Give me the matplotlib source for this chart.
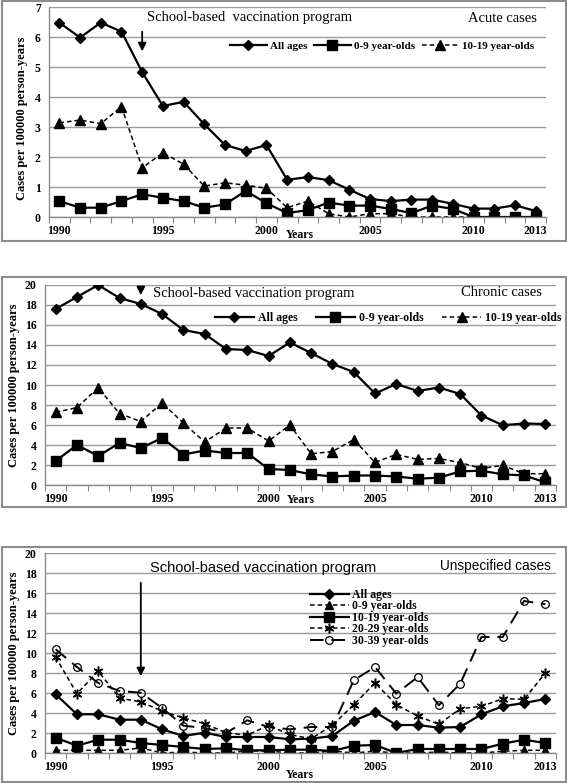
import matplotlib
matplotlib.use("Agg")
import matplotlib.pyplot as plt
from matplotlib.patches import Rectangle
import numpy as np

years = list(range(1990, 2014))

# Acute cases
acute_all = [6.48, 5.98, 6.48, 6.18, 4.83, 3.70, 3.84, 3.09, 2.40, 2.20, 2.40, 1.24,
             1.33, 1.23, 0.91, 0.60, 0.53, 0.58, 0.58, 0.44, 0.28, 0.28, 0.39, 0.20]
acute_0_9 = [0.53, 0.31, 0.31, 0.53, 0.76, 0.64, 0.53, 0.31, 0.42, 0.87, 0.46, 0.13,
             0.23, 0.48, 0.38, 0.38, 0.27, 0.13, 0.38, 0.27, 0.0, 0.0, 0.0, 0.0]
acute_10_19 = [3.14, 3.23, 3.11, 3.68, 1.64, 2.14, 1.76, 1.03, 1.14, 1.06, 0.96, 0.31,
               0.53, 0.11, 0.0, 0.11, 0.11, 0.0, 0.0, 0.0, 0.0, 0.0, 0.0, 0.0]

# Chronic cases
chronic_all = [17.6, 18.8, 20.0, 18.7, 18.1, 17.1, 15.5, 15.1, 13.6, 13.5, 12.9, 14.25,
               13.2, 12.1, 11.3, 9.15, 10.1, 9.4, 9.75, 9.1, 6.95, 5.98, 6.15, 6.1]
chronic_0_9 = [2.4, 4.0, 2.9, 4.2, 3.7, 4.7, 3.05, 3.45, 3.2, 3.2, 1.6, 1.5,
               1.06, 0.85, 0.95, 0.95, 0.85, 0.63, 0.73, 1.36, 1.43, 1.06, 0.96, 0.27]
chronic_10_19 = [7.28, 7.74, 9.73, 7.14, 6.35, 8.2, 6.2, 4.3, 5.7, 5.7, 4.4, 6.0,
                 3.12, 3.35, 4.55, 2.26, 3.06, 2.56, 2.66, 2.23, 1.66, 1.96, 1.13, 1.13]

# Unspecified cases
unspec_all = [5.87, 3.87, 3.87, 3.33, 3.33, 2.37, 1.7, 2.03, 1.6, 1.6, 1.6, 1.37,
              1.43, 1.7, 3.23, 4.1, 2.8, 2.8, 2.53, 2.6, 3.87, 4.67, 5.0, 5.4]
unspec_0_9 = [0.27, 0.27, 0.27, 0.27, 0.5, 0.0, 0.1, 0.0, 0.0, 0.2, 0.2, 0.0,
              0.0, 0.2, 0.0, 0.17, 0.0, 0.0, 0.1, 0.0, 0.0, 0.17, 0.27, 0.27]
unspec_10_19 = [1.53, 0.73, 1.33, 1.33, 1.0, 0.8, 0.6, 0.4, 0.47, 0.27, 0.27, 0.33,
                0.33, 0.2, 0.73, 0.8, 0.0, 0.4, 0.4, 0.4, 0.4, 0.93, 1.33, 1.0]
unspec_20_29 = [9.6, 5.93, 8.17, 5.5, 5.1, 4.2, 3.5, 2.93, 2.03, 1.77, 2.77, 1.83,
                1.43, 2.77, 4.83, 7.0, 4.83, 3.7, 2.87, 4.43, 4.67, 5.43, 5.37, 8.0]
unspec_30_39 = [10.37, 8.6, 7.0, 6.2, 6.03, 4.5, 2.73, 2.5, 2.0, 3.27, 2.6, 2.37,
                2.6, 2.6, 7.27, 8.6, 5.93, 7.6, 4.77, 6.93, 11.6, 11.6, 15.2, 14.87]

xtick_years = [1990, 1995, 2000, 2005, 2010, 2013]
program_year = 1994

W, H = 567, 783
fig = plt.figure(figsize=(W / 100, H / 100), dpi=100)

SERIF = ["Liberation Serif", "DejaVu Serif"]
SANS = ["Liberation Sans", "DejaVu Sans"]


def fx(x):
    return x / W


def fy(y):
    return 1 - y / H


def make_axes(x0, x1, y0, y1):
    return fig.add_axes([fx(x0), fy(y1), (x1 - x0) / W, (y1 - y0) / H])


def style_axes(ax, ymax, ystep):
    ax.set_xlim(1989.5, 2013.5)
    ax.set_ylim(0, ymax)
    ax.set_yticks(np.arange(0, ymax + 0.01, ystep))
    ax.set_xticks(xtick_years)
    ax.set_xticks(np.arange(1989.5, 2014, 1), minor=True)
    ax.tick_params(axis="x", which="major", length=0, pad=6)
    ax.tick_params(axis="x", which="minor", length=4, color="#888888", width=0.8)
    ax.tick_params(axis="y", length=0, pad=6)
    for lab in ax.get_xticklabels() + ax.get_yticklabels():
        lab.set_fontfamily(SERIF)
        lab.set_fontweight("bold")
        lab.set_fontsize(8.5)
    ax.grid(axis="y", color="#9a9a9a", lw=1.0)
    ax.set_axisbelow(True)
    for s in ["top", "right"]:
        ax.spines[s].set_visible(False)
    for s in ["left", "bottom"]:
        ax.spines[s].set_color("#8a8a8a")
        ax.spines[s].set_linewidth(1.0)
    ax.set_facecolor("white")


def frame(y0, y1):
    fig.patches.append(Rectangle((fx(1.5), fy(y1)), (W - 3) / W, (y1 - y0) / H,
                                 transform=fig.transFigure, fill=False,
                                 edgecolor="#8c8c8c", lw=1.5, zorder=0))


def ylab(x, y, size=9):
    fig.text(fx(x), fy(y), "Cases per 100000 person-years", rotation=90,
             ha="center", va="center", family=SERIF, weight="bold", fontsize=size)


def xlab(x, y):
    fig.text(fx(x), fy(y), "Years", ha="center", va="center",
             family=SERIF, weight="bold", fontsize=8.5)


lw = 1.6
star = (6, 2, 0)
# ---------------- Panel 1: Acute ----------------
frame(1, 241)
ax1 = make_axes(49, 546, 7, 217)
style_axes(ax1, 7, 1)
ax1.plot(years, acute_all, color="black", lw=lw, marker="D", ms=5, label="All ages")
ax1.plot(years, acute_0_9, color="black", lw=lw, marker="s", ms=6.5, label="0-9 year-olds")
ax1.plot(years, acute_10_19, color="black", lw=1.1, ls=(0, (3, 2)), marker="^", ms=6.5,
         label="10-19 year-olds")
ylab(22, 118)
xlab(300, 235)
fig.text(fx(147), fy(18), "School-based  vaccination program", ha="left", va="center",
         family=SERIF, fontsize=10.5)
fig.text(fx(537), fy(18), "Acute cases", ha="right", va="center",
         family=SERIF, fontsize=10.5)
ax1.annotate("", xy=(program_year, 5.43), xytext=(program_year, 6.27),
             arrowprops=dict(arrowstyle="-|>", color="black", lw=1.3,
                             mutation_scale=12), annotation_clip=False)
ax1.legend(loc="center left", bbox_to_anchor=(fx(230), fy(46)),
           bbox_transform=fig.transFigure, ncol=3, frameon=False,
           handlelength=3.3, handletextpad=0.3, columnspacing=0.6,
           borderpad=0, borderaxespad=0,
           prop=dict(family=SERIF, weight="bold", size=8))

# ---------------- Panel 2: Chronic ----------------
frame(277, 507)
ax2 = make_axes(45, 556, 285, 485)
style_axes(ax2, 20, 2)
ax2.plot(years, chronic_all, color="black", lw=lw, marker="D", ms=5, label="All ages")
ax2.plot(years, chronic_0_9, color="black", lw=lw, marker="s", ms=6.5, label="0-9 year-olds")
ax2.plot(years, chronic_10_19, color="black", lw=1.1, ls=(0, (3, 2)), marker="^", ms=6.5,
         label="10-19 year-olds")
ylab(14, 385)
xlab(301, 500)
fig.text(fx(153), fy(293), "School-based vaccination program", ha="left", va="center",
         family=SERIF, fontsize=10.5)
fig.text(fx(542), fy(293), "Chronic cases", ha="right", va="center",
         family=SERIF, fontsize=10.5)
ax2.annotate("", xy=(program_year, 18.7), xytext=(program_year, 19.9),
             arrowprops=dict(arrowstyle="-|>", color="black", lw=1.3,
                             mutation_scale=12), annotation_clip=False)
ax2.legend(loc="center left", bbox_to_anchor=(fx(215), fy(318)),
           bbox_transform=fig.transFigure, ncol=3, frameon=False,
           handlelength=3.3, handletextpad=0.3, columnspacing=1.6,
           borderpad=0, borderaxespad=0,
           prop=dict(family=SERIF, weight="bold", size=8.5))

# ---------------- Panel 3: Unspecified ----------------
frame(547, 782)
ax3 = make_axes(45, 556, 553, 753)
style_axes(ax3, 20, 2)
ax3.plot(years, unspec_all, color="black", lw=lw, marker="D", ms=5, label="All ages")
ax3.plot(years, unspec_0_9, color="black", lw=1.1, ls=(0, (3, 2)), marker="^", ms=6,
         label="0-9 year-olds")
ax3.plot(years, unspec_10_19, color="black", lw=lw, marker="s", ms=6.5,
         label="10-19 year-olds")
ax3.plot(years, unspec_20_29, color="black", lw=1.1, ls=(0, (3, 2)), marker=star, ms=7,
         mew=1.1, label="20-29 year-olds")
ax3.plot(years, unspec_30_39, color="black", lw=1.4, ls=(0, (7, 4)), marker="o", ms=5.5,
         mfc="none", mew=0.9, label="30-39 year-olds")
ylab(14, 653)
xlab(300, 775)
fig.text(fx(150), fy(568), "School-based vaccination program", ha="left", va="center",
         family=SANS, fontsize=10.5)
fig.text(fx(551), fy(566), "Unspecified cases", ha="right", va="center",
         family=SANS, fontsize=9.8)
ax3.annotate("", xy=(program_year, 7.4), xytext=(program_year, 17.3),
             arrowprops=dict(arrowstyle="-|>", color="black", lw=1.3,
                             mutation_scale=12), annotation_clip=False)
ax3.legend(loc="upper left", bbox_to_anchor=(fx(310), fy(589)),
           bbox_transform=fig.transFigure, ncol=1, frameon=False,
           handlelength=3.3, handletextpad=0.3, labelspacing=-0.05,
           borderpad=0, borderaxespad=0,
           prop=dict(family=SERIF, weight="bold", size=8.5))

fig.savefig("out.png", dpi=100, facecolor="white")
